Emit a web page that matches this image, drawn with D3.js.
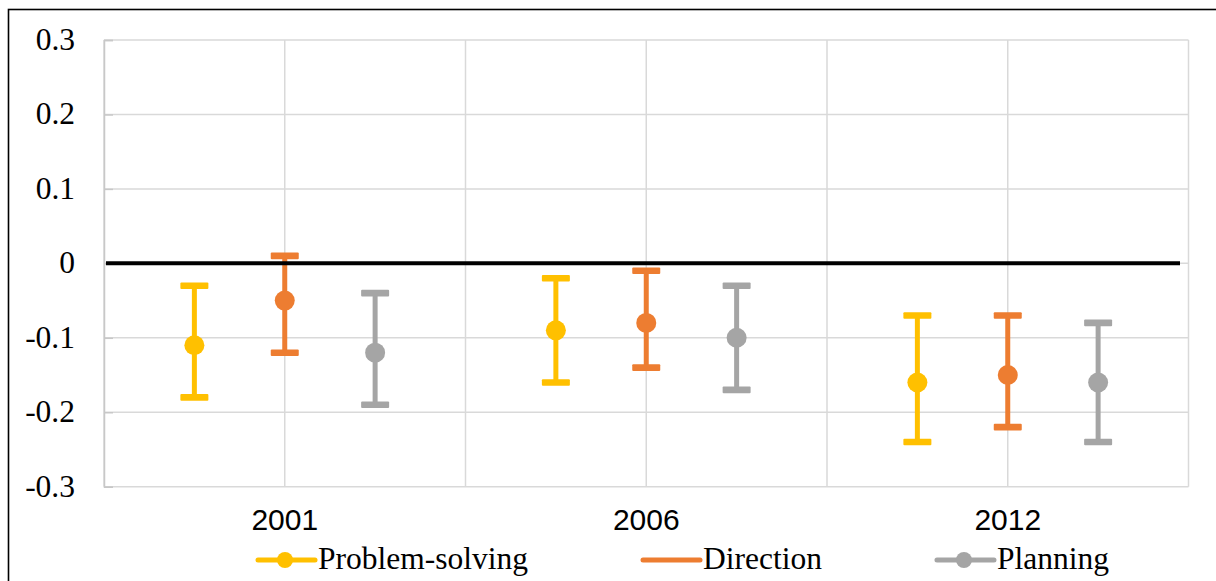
<!DOCTYPE html>
<html>
<head>
<meta charset="utf-8">
<script src="https://cdn.jsdelivr.net/npm/d3@7"></script>
<style>
  html, body { margin: 0; padding: 0; background: #fff; }
  svg { display: block; }
  .serif { font-family: "Liberation Serif", "Times New Roman", Times, "DejaVu Serif", serif; }
  .sans { font-family: "Liberation Sans", Arial, Helvetica, sans-serif; }
</style>
</head>
<body>
<svg id="chart" width="1216" height="581"></svg>
<script>
// Survey years on the horizontal axis
const years = ["2001", "2006", "2012"];

// Series names and colours
const seriesNames = ["Problem-solving", "Direction", "Planning"];
const seriesColors = ["#FFC000", "#ED7D31", "#A5A5A5"];

// Point estimates per series (one value per year)
const problemSolving = [-0.11, -0.09, -0.16];
const direction = [-0.05, -0.08, -0.15];
const planning = [-0.12, -0.10, -0.16];

// Lower / upper confidence bounds per series
const problemSolvingLow = [-0.18, -0.16, -0.24];
const problemSolvingHigh = [-0.03, -0.02, -0.07];
const directionLow = [-0.12, -0.14, -0.22];
const directionHigh = [0.01, -0.01, -0.07];
const planningLow = [-0.19, -0.17, -0.24];
const planningHigh = [-0.04, -0.03, -0.08];

// Y axis tick values and their labels
const yTicks = [-0.3, -0.2, -0.1, 0, 0.1, 0.2, 0.3];
const yTickLabels = ["-0.3", "-0.2", "-0.1", "0", "0.1", "0.2", "0.3"];

const estimates = [problemSolving, direction, planning];
const lows = [problemSolvingLow, directionLow, planningLow];
const highs = [problemSolvingHigh, directionHigh, planningHigh];
const seriesOffset = [-0.25, 0, 0.25];
const legendMarker = [true, false, true];

const svg = d3.select("#chart");

// Outer frame of the chart object
svg.append("rect")
  .attr("x", 8.5).attr("y", 9.5)
  .attr("width", 1300).attr("height", 700)
  .attr("fill", "none").attr("stroke", "#000").attr("stroke-width", 1.6);

const plot = { left: 104, right: 1188.5, top: 40, bottom: 486.7 };

const x = d3.scaleLinear().domain([-0.5, years.length - 0.5]).range([plot.left, plot.right]);
const y = d3.scaleLinear().domain([-0.3, 0.3]).range([plot.bottom, plot.top]);

// Horizontal gridlines
svg.append("g").selectAll("line")
  .data(yTicks)
  .join("line")
  .attr("x1", plot.left).attr("x2", plot.right)
  .attr("y1", d => y(d)).attr("y2", d => y(d))
  .attr("stroke", "#D9D9D9").attr("stroke-width", 1.5);

// Vertical gridlines at category boundaries and centres
const vGrid = d3.range(-0.5, years.length, 0.5);
svg.append("g").selectAll("line")
  .data(vGrid)
  .join("line")
  .attr("x1", d => x(d)).attr("x2", d => x(d))
  .attr("y1", plot.top).attr("y2", plot.bottom)
  .attr("stroke", "#D9D9D9").attr("stroke-width", 1.5);

// Left axis with short tick marks
const yAxis = d3.axisLeft(y).tickValues(yTicks).tickSize(-9).tickFormat("");
const yAxisG = svg.append("g").attr("transform", `translate(${plot.left},0)`).call(yAxis);
yAxisG.select(".domain").attr("stroke", "#C8C8C8").attr("stroke-width", 1.5);
yAxisG.selectAll(".tick line").attr("stroke", "#C8C8C8").attr("stroke-width", 1.5);

// Y tick labels
svg.append("g").selectAll("text")
  .data(yTicks)
  .join("text")
  .attr("class", "serif")
  .attr("x", 75)
  .attr("y", d => y(d) + 10)
  .attr("text-anchor", "end")
  .attr("font-size", 31.5)
  .attr("fill", "#000")
  .text((d, i) => yTickLabels[i]);

// Category labels
svg.append("g").selectAll("text")
  .data(years)
  .join("text")
  .attr("class", "sans")
  .attr("x", (d, i) => x(i))
  .attr("y", 530)
  .attr("text-anchor", "middle")
  .attr("font-size", 30)
  .attr("fill", "#000")
  .text(d => d);

// Error bars and points
estimates.forEach((vals, s) => {
  const g = svg.append("g");
  const color = seriesColors[s];
  const cx = i => x(i + seriesOffset[s]);
  g.selectAll("line.stem")
    .data(vals)
    .join("line")
    .attr("class", "stem")
    .attr("x1", (d, i) => cx(i)).attr("x2", (d, i) => cx(i))
    .attr("y1", (d, i) => y(highs[s][i])).attr("y2", (d, i) => y(lows[s][i]))
    .attr("stroke", color).attr("stroke-width", 5);
  const caps = [];
  vals.forEach((d, i) => { caps.push([i, highs[s][i]]); caps.push([i, lows[s][i]]); });
  g.selectAll("rect.cap")
    .data(caps)
    .join("rect")
    .attr("class", "cap")
    .attr("x", d => cx(d[0]) - 14)
    .attr("y", d => y(d[1]) - 3.3)
    .attr("width", 28).attr("height", 6.6)
    .attr("rx", 1)
    .attr("fill", color);
  g.selectAll("circle")
    .data(vals)
    .join("circle")
    .attr("cx", (d, i) => cx(i))
    .attr("cy", d => y(d))
    .attr("r", 10)
    .attr("fill", color);
});

// Zero reference line
svg.append("line")
  .attr("x1", plot.left + 2).attr("x2", plot.right - 8.5)
  .attr("y1", y(0)).attr("y2", y(0))
  .attr("stroke", "#000").attr("stroke-width", 4);

// Legend
const legend = svg.append("g");
let lx = 258;
const ly = 560;
seriesNames.forEach((name, s) => {
  const item = legend.append("g");
  item.append("line")
    .attr("x1", lx).attr("x2", lx + 57)
    .attr("y1", ly).attr("y2", ly)
    .attr("stroke", seriesColors[s]).attr("stroke-width", 5)
    .attr("stroke-linecap", "round");
  if (legendMarker[s]) {
    item.append("circle")
      .attr("cx", lx + 27).attr("cy", ly).attr("r", 8)
      .attr("fill", seriesColors[s]);
  }
  const t = item.append("text")
    .attr("class", "serif")
    .attr("x", lx + 60)
    .attr("y", ly + 9)
    .attr("font-size", 31.5)
    .attr("fill", "#000")
    .text(name);
  lx += 60 + t.node().getComputedTextLength() + 115;
});
</script>
</body>
</html>
